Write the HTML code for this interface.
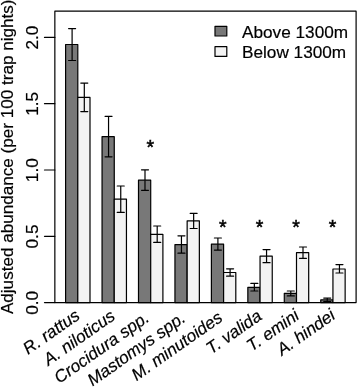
<!DOCTYPE html>
<html><head><meta charset="utf-8"><style>html,body{margin:0;padding:0;background:#fff;overflow:hidden}</style></head><body><svg width="358" height="388" viewBox="0 0 358 388" style="display:block;font-family:'Liberation Sans',sans-serif">
<rect width="358" height="388" fill="#fff"/>
<defs><filter id="bl" x="0" y="0" width="358" height="388" filterUnits="userSpaceOnUse"><feGaussianBlur stdDeviation="0.4"/></filter></defs><g filter="url(#bl)">
<g stroke="#000" stroke-width="1.2" fill="none" stroke-linejoin="round" stroke-linecap="round">
<rect x="65.60" y="44.5" width="12.2" height="258.10" fill="#787878"/>
<rect x="77.80" y="97.4" width="12.2" height="205.20" fill="#f3f3f3"/>
<path d="M72.10 28.6V60.5M68.60 28.6h7M68.60 60.5h7"/>
<path d="M84.30 83.1V111.6M80.80 83.1h7M80.80 111.6h7"/>
<rect x="102.05" y="136.7" width="12.2" height="165.90" fill="#787878"/>
<rect x="114.25" y="199.1" width="12.2" height="103.50" fill="#f3f3f3"/>
<path d="M108.55 116.3V156.8M105.05 116.3h7M105.05 156.8h7"/>
<path d="M120.75 186.0V212.4M117.25 186.0h7M117.25 212.4h7"/>
<rect x="138.50" y="180.2" width="12.2" height="122.40" fill="#787878"/>
<rect x="150.70" y="234.3" width="12.2" height="68.30" fill="#f3f3f3"/>
<path d="M145.00 169.8V190.3M141.50 169.8h7M141.50 190.3h7"/>
<path d="M157.20 226.0V242.4M153.70 226.0h7M153.70 242.4h7"/>
<rect x="174.95" y="244.6" width="12.2" height="58.00" fill="#787878"/>
<rect x="187.15" y="220.8" width="12.2" height="81.80" fill="#f3f3f3"/>
<path d="M181.45 235.8V253.2M177.95 235.8h7M177.95 253.2h7"/>
<path d="M193.65 213.3V228.5M190.15 213.3h7M190.15 228.5h7"/>
<rect x="211.40" y="244.2" width="12.2" height="58.40" fill="#787878"/>
<rect x="223.60" y="272.5" width="12.2" height="30.10" fill="#f3f3f3"/>
<path d="M217.90 238.0V250.1M214.40 238.0h7M214.40 250.1h7"/>
<path d="M230.10 268.8V276.2M226.60 268.8h7M226.60 276.2h7"/>
<rect x="247.85" y="287.3" width="12.2" height="15.30" fill="#787878"/>
<rect x="260.05" y="256.2" width="12.2" height="46.40" fill="#f3f3f3"/>
<path d="M254.35 283.4V291.0M250.85 283.4h7M250.85 291.0h7"/>
<path d="M266.55 249.6V262.7M263.05 249.6h7M263.05 262.7h7"/>
<rect x="284.30" y="293.3" width="12.2" height="9.30" fill="#787878"/>
<rect x="296.50" y="252.7" width="12.2" height="49.90" fill="#f3f3f3"/>
<path d="M290.80 291.0V295.9M287.30 291.0h7M287.30 295.9h7"/>
<path d="M303.00 247.0V258.3M299.50 247.0h7M299.50 258.3h7"/>
<rect x="320.75" y="299.9" width="12.2" height="2.70" fill="#787878"/>
<rect x="332.95" y="269.0" width="12.2" height="33.60" fill="#f3f3f3"/>
<path d="M327.25 298.1V301.6M323.75 298.1h7M323.75 301.6h7"/>
<path d="M339.45 264.6V273.0M335.95 264.6h7M335.95 273.0h7"/>
<rect x="54.85" y="11.2" width="301.25" height="291.40"/>
<path d="M44.5 302.6H54.85"/>
<path d="M44.5 236.3H54.85"/>
<path d="M44.5 170.0H54.85"/>
<path d="M44.5 103.7H54.85"/>
<path d="M44.5 37.4H54.85"/>
<rect x="215" y="26.3" width="11.8" height="9.7" fill="#787878"/>
<rect x="215" y="46.7" width="11.8" height="9.7" fill="#f3f3f3"/>
</g>
<g fill="#000" stroke="#000" stroke-width="0.2">
<text transform="translate(37.5 302.80) rotate(-90)" text-anchor="middle" font-size="17.2">0.0</text>
<text transform="translate(37.5 236.50) rotate(-90)" text-anchor="middle" font-size="17.2">0.5</text>
<text transform="translate(37.5 170.20) rotate(-90)" text-anchor="middle" font-size="17.2">1.0</text>
<text transform="translate(37.5 103.90) rotate(-90)" text-anchor="middle" font-size="17.2">1.5</text>
<text transform="translate(37.5 37.60) rotate(-90)" text-anchor="middle" font-size="17.2">2.0</text>
<text transform="translate(13.3 156.8) rotate(-90)" text-anchor="middle" font-size="17.1">Adjusted abundance (per 100 trap nights)</text>
<text x="242.0" y="37.5" font-size="17.2">Above 1300m</text>
<text x="242.0" y="58.1" font-size="17.2">Below 1300m</text>
<text x="150.3" y="153.90" text-anchor="middle" font-size="19.5" stroke="#000" stroke-width="0.5">*</text>
<text x="222.9" y="234.00" text-anchor="middle" font-size="19.5" stroke="#000" stroke-width="0.5">*</text>
<text x="259.6" y="234.00" text-anchor="middle" font-size="19.5" stroke="#000" stroke-width="0.5">*</text>
<text x="296" y="234.00" text-anchor="middle" font-size="19.5" stroke="#000" stroke-width="0.5">*</text>
<text x="332.6" y="234.00" text-anchor="middle" font-size="19.5" stroke="#000" stroke-width="0.5">*</text>
<text transform="translate(81.00 318.0) rotate(-35)" text-anchor="end" font-size="17.12" font-style="italic">R. rattus</text>
<text transform="translate(116.35 318.5) rotate(-35)" text-anchor="end" font-size="17.12" font-style="italic">A. niloticus</text>
<text transform="translate(150.50 320.2) rotate(-35)" text-anchor="end" font-size="17.12" font-style="italic">Crocidura spp.</text>
<text transform="translate(186.65 320.6) rotate(-35)" text-anchor="end" font-size="17.12" font-style="italic">Mastomys spp.</text>
<text transform="translate(223.70 320.1) rotate(-35)" text-anchor="end" font-size="17.12" font-style="italic">M. minutoides</text>
<text transform="translate(262.95 318.5) rotate(-35)" text-anchor="end" font-size="17.12" font-style="italic">T. valida</text>
<text transform="translate(300.40 318.1) rotate(-35)" text-anchor="end" font-size="17.12" font-style="italic">T. emini</text>
<text transform="translate(336.45 317.8) rotate(-35)" text-anchor="end" font-size="17.12" font-style="italic">A. hindei</text>
</g></g></svg></body></html>
